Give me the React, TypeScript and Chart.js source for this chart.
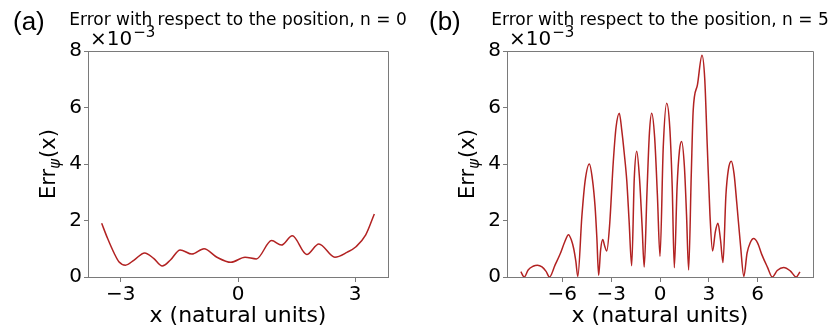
import React, { useEffect, useRef } from "react";
import { Chart, registerables } from "chart.js";

Chart.register(...registerables);

// ---- data (values in units of 1e-3) ----
const xA = [-3.49, -3.34, -3.17, -3.05, -2.88, -2.66, -2.39, -2.16, -1.94, -1.73, -1.48, -1.18, -0.87, -0.54, -0.18, 0.18, 0.47, 0.86, 1.11, 1.39, 1.76, 2.07, 2.48, 2.8, 3.02, 3.27, 3.49];
const yA = [1.9, 1.37, 0.84, 0.54, 0.42, 0.6, 0.85, 0.66, 0.39, 0.6, 0.96, 0.81, 1.0, 0.7, 0.52, 0.7, 0.64, 1.29, 1.13, 1.46, 0.8, 1.17, 0.7, 0.88, 1.07, 1.49, 2.23];

const xB = [-8.55, -8.34, -8.1, -7.8, -7.53, -7.25, -7.0, -6.79,
  -6.45, -6.13, -5.85, -5.62, -5.45, -5.3, -5.17, -5.05,
  -4.8, -4.6, -4.34, -4.15, -3.99, -3.88, -3.77,
  -3.65, -3.52, -3.4, -3.27, -3.1, -2.87, -2.7, -2.5, -2.35, -2.2, -2.04, -1.9, -1.74,
  -1.58, -1.43, -1.26, -1.1, -0.97,
  -0.8, -0.65, -0.51, -0.33, -0.16, 0.0,
  0.2, 0.41, 0.6, 0.75, 0.88,
  1.05, 1.2, 1.33, 1.5, 1.63, 1.76,
  1.92, 2.04, 2.3, 2.58, 2.75, 2.9, 3.07, 3.23,
  3.4, 3.56, 3.72, 3.87,
  4.05, 4.2, 4.38, 4.55, 4.72, 4.95, 5.15,
  5.35, 5.55, 5.75, 6.0, 6.25, 6.6, 6.9,
  7.2, 7.6, 8.0, 8.37, 8.6];
const yB = [0.19, 0.0, 0.25, 0.38, 0.42, 0.36, 0.2, 0.0,
  0.42, 0.82, 1.25, 1.5, 1.32, 1.0, 0.55, 0.02,
  2.15, 3.4, 4.0, 3.45, 2.5, 1.4, 0.06,
  0.95, 1.33, 1.1, 0.92, 1.8, 4.08, 5.3, 5.8, 5.2, 4.4, 3.4, 2.0, 0.4,
  3.5, 4.45, 3.5, 1.8, 0.35,
  3.0, 5.1, 5.8, 4.95, 2.9, 0.73,
  4.6, 6.15, 5.3, 3.2, 0.33,
  3.2, 4.5, 4.8, 3.9, 2.2, 0.25,
  3.6, 5.9, 6.8, 7.85, 7.0, 4.7, 2.2, 0.92,
  1.6, 1.9, 1.3, 0.51,
  2.9, 3.8, 4.1, 3.65, 2.6, 1.1, 0.02,
  0.85, 1.22, 1.36, 1.2, 0.8, 0.35, 0.0,
  0.23, 0.34, 0.22, 0.0, 0.18];

const xTicksA = [-3, 0, 3];
const xTicksB = [-6, -3, 0, 3, 6];
const yTicks = [0, 2, 4, 6, 8];
const xLimA = [-3.84, 3.84];
const xLimB = [-9.4, 9.4];
const yLim = [0, 8];

const titleA = "Error with respect to the position, n = 0";
const titleB = "Error with respect to the position, n = 5";
const panelA = "(a)";
const panelB = "(b)";
const xLabel = "x (natural units)";
const yLabelParts = ["Err", "ψ", "(x)"];
const offsetParts = ["×10", "−3"];

const LINE = "#b22222";
const SPINE = "#7a7a7a";
const DJ = "'DejaVu Sans', sans-serif";

function align(v: number) {
  return Math.round(v - 0.5) + 0.5;
}

function makeDecor(panel: string, title: string) {
  return {
    id: "decor",
    afterDatasetsDraw(chart: any) {
      const { ctx, chartArea: ca } = chart;
      ctx.save();
      // top / right spines
      ctx.strokeStyle = SPINE;
      ctx.lineWidth = 1;
      ctx.beginPath();
      ctx.moveTo(align(ca.left), align(ca.top));
      ctx.lineTo(align(ca.right), align(ca.top));
      ctx.lineTo(align(ca.right), align(ca.bottom));
      ctx.stroke();

      ctx.fillStyle = "#000";
      ctx.textBaseline = "alphabetic";
      // panel letter
      ctx.font = "26px 'Liberation Sans', Arial, sans-serif";
      ctx.textAlign = "left";
      ctx.fillText(panel, 13, 30);
      // title
      ctx.font = `17px ${DJ}`;
      ctx.textAlign = "center";
      ctx.fillText(title, (ca.left + ca.right) / 2, 25);
      // offset text ×10^-3
      ctx.textAlign = "left";
      ctx.font = `20px ${DJ}`;
      const ox = ca.left + 2;
      ctx.fillText(offsetParts[0], ox, 45);
      const w0 = ctx.measureText(offsetParts[0]).width;
      ctx.font = `15px ${DJ}`;
      ctx.fillText(offsetParts[1], ox + w0 + 1, 37);
      // x label
      ctx.font = `22px ${DJ}`;
      ctx.textAlign = "center";
      ctx.fillText(xLabel, (ca.left + ca.right) / 2, 322);
      // y label (rotated)
      const cy = (ca.top + ca.bottom) / 2;
      const bx = ca.left - 33;
      ctx.translate(bx, cy);
      ctx.rotate(-Math.PI / 2);
      ctx.textAlign = "left";
      ctx.font = `21px ${DJ}`;
      const wE = ctx.measureText(yLabelParts[0]).width;
      const wX = ctx.measureText(yLabelParts[2]).width;
      ctx.font = `italic 15px ${DJ}`;
      const wP = ctx.measureText(yLabelParts[1]).width;
      const total = wE + wP + wX + 1;
      const x0 = -total / 2;
      ctx.font = `21px ${DJ}`;
      ctx.fillText(yLabelParts[0], x0, 0);
      ctx.font = `italic 15px ${DJ}`;
      ctx.fillText(yLabelParts[1], x0 + wE, 5);
      ctx.font = `21px ${DJ}`;
      ctx.fillText(yLabelParts[2], x0 + wE + wP + 1, 0);
      ctx.restore();
    },
  };
}

function Panel(props: {
  xs: number[]; ys: number[]; xTicks: number[]; xLim: number[];
  title: string; panel: string; left: number; yAxisW: number; rightPad: number;
}) {
  const ref = useRef<HTMLCanvasElement | null>(null);
  useEffect(() => {
    if (!ref.current) return;
    const pts = props.xs.map((x, i) => ({ x, y: props.ys[i] }));
    const chart = new Chart(ref.current, {
      type: "line",
      data: {
        datasets: [{
          data: pts,
          borderColor: LINE,
          borderWidth: 1.5,
          pointRadius: 0,
          cubicInterpolationMode: "monotone",
          fill: false,
        }],
      },
      options: {
        animation: false,
        responsive: false,
        devicePixelRatio: 1,
        layout: { padding: { top: 51, right: props.rightPad, left: 0, bottom: 0 } },
        plugins: { legend: { display: false }, tooltip: { enabled: false }, title: { display: false } },
        scales: {
          x: {
            type: "linear",
            min: props.xLim[0],
            max: props.xLim[1],
            afterBuildTicks: (s: any) => { s.ticks = props.xTicks.map((v) => ({ value: v })); },
            afterFit: (s: any) => { s.height = 52; },
            ticks: {
              color: "#000",
              font: { family: DJ, size: 20 },
              padding: 1,
              maxRotation: 0,
              autoSkip: false,
              callback: (v: any) => (v < 0 ? "−" + Math.abs(v) : String(v)),
            },
            grid: { display: true, drawOnChartArea: false, drawTicks: true, tickLength: 5, color: SPINE },
            border: { display: true, color: SPINE, width: 1 },
          },
          y: {
            type: "linear",
            min: yLim[0],
            max: yLim[1],
            afterBuildTicks: (s: any) => { s.ticks = yTicks.map((v) => ({ value: v })); },
            afterFit: (s: any) => { s.width = props.yAxisW; },
            ticks: {
              color: "#000",
              font: { family: DJ, size: 20 },
              padding: 2,
              autoSkip: false,
            },
            grid: { display: true, drawOnChartArea: false, drawTicks: true, tickLength: 4, color: SPINE },
            border: { display: true, color: SPINE, width: 1 },
          },
        },
      } as any,
      plugins: [makeDecor(props.panel, props.title)],
    });
    return () => chart.destroy();
  }, []);
  return (
    <canvas
      ref={ref}
      width={416}
      height={329}
      style={{ position: "absolute", left: props.left, top: 0, width: 416, height: 329 }}
    />
  );
}

export default function App() {
  return (
    <div style={{ position: "fixed", left: 0, top: 0, width: 832, height: 329, background: "#fff", overflow: "hidden" }}>
      <Panel xs={xA} ys={yA} xTicks={xTicksA} xLim={xLimA} title={titleA} panel={panelA} left={0} yAxisW={88} rightPad={28} />
      <Panel xs={xB} ys={yB} xTicks={xTicksB} xLim={xLimB} title={titleB} panel={panelB} left={416} yAxisW={91} rightPad={19} />
    </div>
  );
}
